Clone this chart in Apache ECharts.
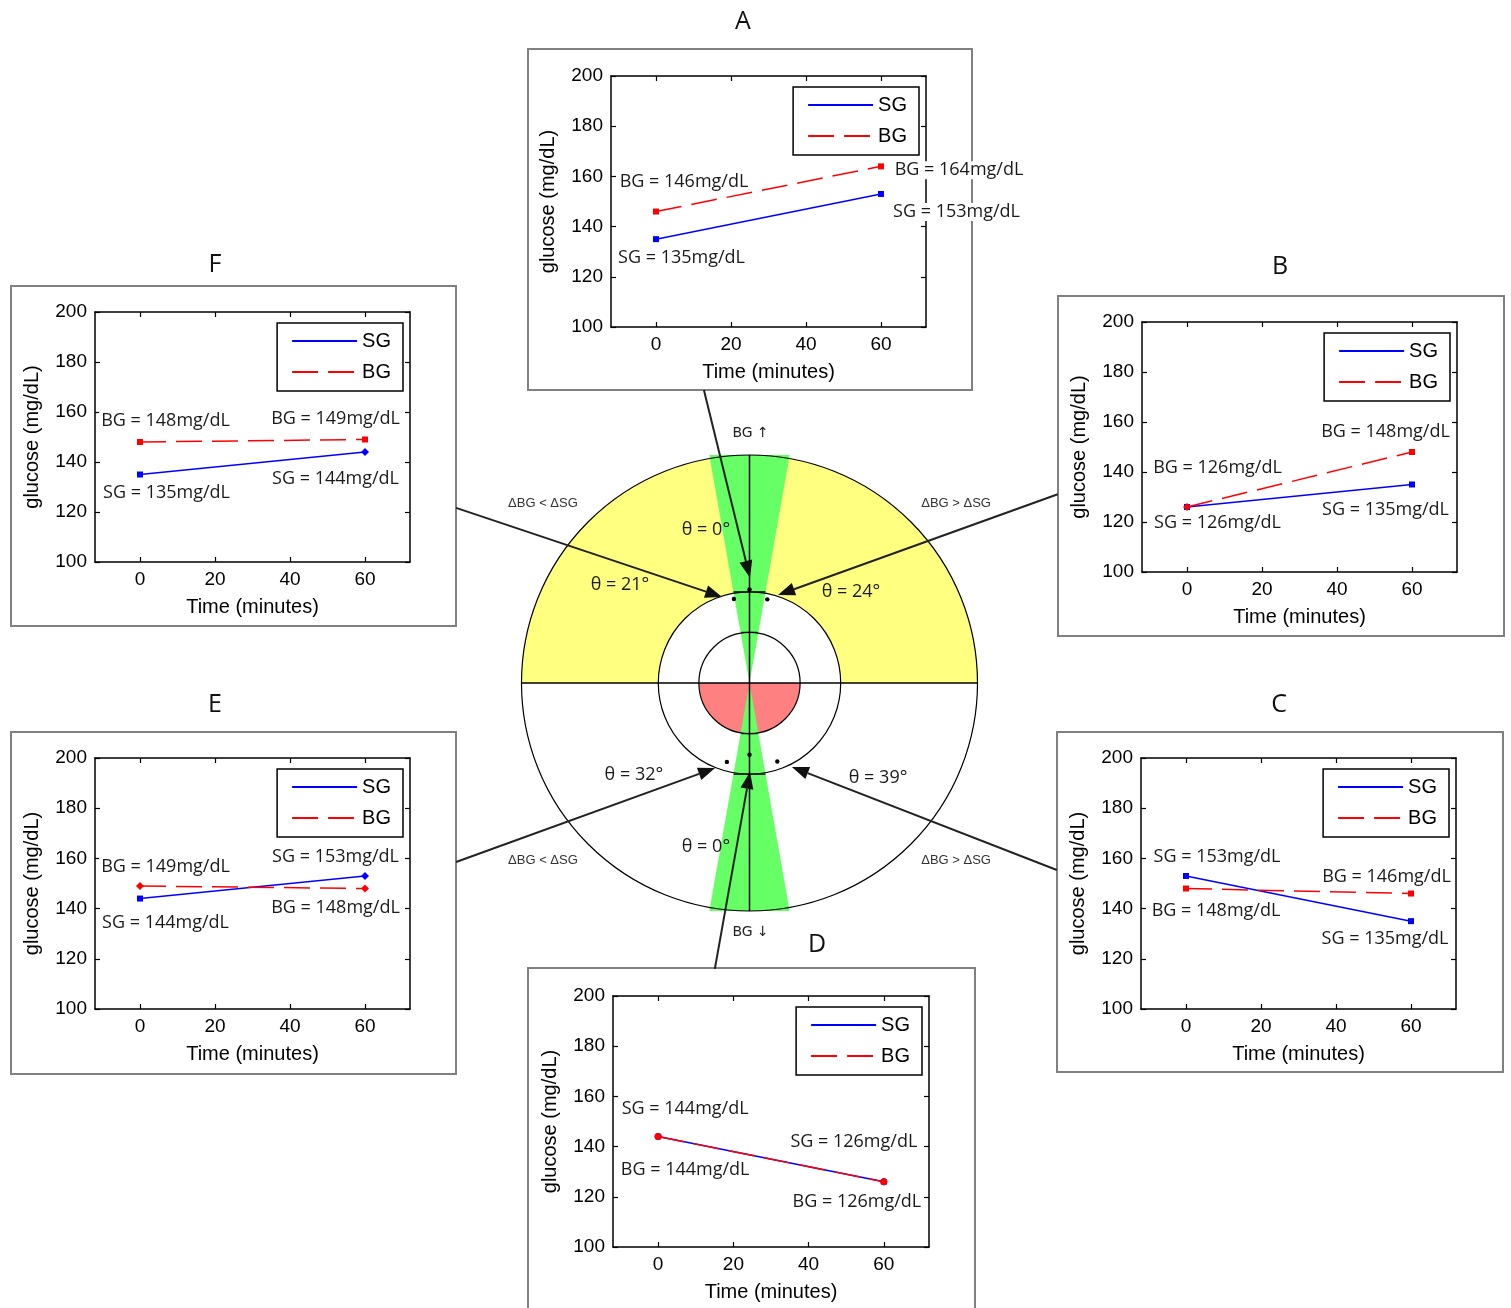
<!DOCTYPE html>
<html><head><meta charset="utf-8">
<script src="https://cdn.jsdelivr.net/npm/echarts@6/dist/echarts.min.js"></script>
<style>html,body{margin:0;padding:0;background:#fff}#c{width:1511px;height:1308px}</style>
</head><body><div id="c"></div><script>
// ---------------- data ----------------
const panelNames = ['A', 'B', 'C', 'D', 'E', 'F'];
const timePoints = [0, 60];
const sgA = [135, 153], bgA = [146, 164];
const sgB = [126, 135], bgB = [126, 148];
const sgC = [153, 135], bgC = [148, 146];
const sgD = [144, 126], bgD = [144, 126];
const sgE = [144, 153], bgE = [149, 148];
const sgF = [135, 144], bgF = [148, 149];
const thetaValues = [0, 24, 39, 0, 32, 21]; // A..F, degrees
const yTickValues = [100, 120, 140, 160, 180, 200];
const xTickValues = [0, 20, 40, 60];
const seriesNames = ['SG', 'BG'];
const xAxisName = 'Time (minutes)';
const yAxisName = 'glucose (mg/dL)';
const regionLabels = ['ΔBG < ΔSG', 'ΔBG > ΔSG'];
const bgDirLabels = ['BG ↑', 'BG ↓'];

const sgData = [sgA, sgB, sgC, sgD, sgE, sgF];
const bgData = [bgA, bgB, bgC, bgD, bgE, bgF];

// ---------------- layout / style ----------------
const W = 1511;
const layout = {
  A: {grid: [611, 76, 315, 251], frame: [528, 49, 444, 341], title: [743, 22],
      lab: {sg: [[25.5, 19], [75.5, 18]], bg: [[28, -30], [78, 4]]},
      sym: {sg: ['rect', 'rect'], bg: ['rect', 'rect']},
      arrow: [[-0.2, 1.285], [0.002, 0.462]], dotR: 0.41, side: [0, 1], thetaPos: [-0.191, 0.671]},
  B: {grid: [1142, 322, 315, 250], frame: [1058, 296, 446, 340], title: [1280, 267],
      lab: {sg: [[30.5, 16], [-26.5, 25.5]], bg: [[30.5, -39], [-26.5, -20]]},
      sym: {sg: ['rect', 'rect'], bg: ['diamond', 'rect']},
      arrow: [[1.352, 0.828], [0.125, 0.386]], dotR: 0.375, side: [1, 1], thetaPos: [0.445, 0.399]},
  C: {grid: [1141, 758, 315, 251], frame: [1057, 732, 446, 340], title: [1279, 705],
      lab: {sg: [[31, -19], [-26, 18]], bg: [[30, 22.5], [-24.5, -17]]},
      sym: {sg: ['rect', 'rect'], bg: ['rect', 'rect']},
      arrow: [[1.348, -0.820], [0.186, -0.368]], dotR: 0.365, side: [1, -1], thetaPos: [0.564, -0.417]},
  D: {grid: [613, 996, 316, 251], frame: [528, 968, 447, 352], title: [817, 945],
      lab: {sg: [[27, -27.6], [-30, -40]], bg: [[27, 33], [-27, 20]]},
      sym: {sg: ['circle', 'circle'], bg: ['circle', 'circle']},
      arrow: [[-0.152, -1.254], [0.002, -0.390]], dotR: 0.315, side: [0, -1], thetaPos: [-0.191, -0.719]},
  E: {grid: [95, 758, 315, 251], frame: [11, 732, 445, 342], title: [215, 705],
      lab: {sg: [[25.5, 24], [-29.5, -19]], bg: [[25.5, -19], [-29.5, 19]]},
      sym: {sg: ['rect', 'diamond'], bg: ['diamond', 'diamond']},
      arrow: [[-1.287, -0.785], [-0.151, -0.373]], dotR: 0.36, side: [-1, -1], thetaPos: [-0.507, -0.404]},
  F: {grid: [95, 312, 315, 250], frame: [11, 286, 445, 340], title: [215, 265],
      lab: {sg: [[26.5, 18], [-29.5, 27]], bg: [[25.5, -21], [-29.5, -21]]},
      sym: {sg: ['rect', 'diamond'], bg: ['rect', 'rect']},
      arrow: [[-1.287, 0.768], [-0.120, 0.377]], dotR: 0.375, side: [-1, 1], thetaPos: [-0.568, 0.430]}
};
const symSize = {rect: 6, diamond: 8, circle: 7};
const colors = {SG: '#0000ff', BG: '#ff0000'};
const tickFont = 'Liberation Sans';
const labelFont = 'Open Sans';
const centerGrid = [521.5, 455, 456, 456];
const rMid = 0.40, rIn = 0.222, wedgeHalf = 10;
const yellow = '#ffff80', green = '#66ff66', red = '#ff8080';

// ---------------- build option ----------------
const grids = [], xAxes = [], yAxes = [], series = [], legends = [], graphics = [];

panelNames.forEach((p, i) => {
  const Lp = layout[p];
  const [gl, gt, gw, gh] = Lp.grid;
  grids.push({left: gl, top: gt, width: gw, height: gh, containLabel: false});
  const axLine = {show: true, onZero: false, lineStyle: {color: '#000', width: 1.5}};
  const tickStyle = {lineStyle: {color: '#000', width: 1.2}};
  xAxes.push({
    gridIndex: i, type: 'value', min: -12, max: 72, position: 'bottom',
    name: xAxisName, nameLocation: 'middle', nameGap: 35,
    nameTextStyle: {fontFamily: tickFont, fontSize: 20, color: '#000'},
    axisLine: axLine, splitLine: {show: false},
    axisTick: Object.assign({inside: true, length: 5, customValues: xTickValues}, tickStyle),
    axisLabel: {customValues: xTickValues, fontFamily: tickFont, fontSize: 19, color: '#000', margin: 8}
  });
  xAxes.push({
    gridIndex: i, type: 'value', min: -12, max: 72, position: 'top',
    axisLine: axLine, splitLine: {show: false},
    axisTick: Object.assign({inside: true, length: 5, customValues: xTickValues}, tickStyle),
    axisLabel: {show: false}
  });
  yAxes.push({
    gridIndex: i, type: 'value', min: 100, max: 200, interval: 20, position: 'left',
    name: yAxisName, nameLocation: 'middle', nameGap: 53, nameRotate: 90,
    nameTextStyle: {fontFamily: tickFont, fontSize: 20, color: '#000'},
    axisLine: axLine, splitLine: {show: false},
    axisTick: Object.assign({inside: true, length: 5}, tickStyle),
    axisLabel: {fontFamily: tickFont, fontSize: 19, color: '#000', margin: 8}
  });
  yAxes.push({
    gridIndex: i, type: 'value', min: 100, max: 200, interval: 20, position: 'right',
    axisLine: axLine, splitLine: {show: false},
    axisTick: Object.assign({inside: true, length: 5}, tickStyle),
    axisLabel: {show: false}
  });

  [['SG', sgData[i], 'sg', 'solid'], ['BG', bgData[i], 'bg', [26, 10]]].forEach(([name, vals, key, dash]) => {
    series.push({
      type: 'line', name: name, xAxisIndex: 2 * i, yAxisIndex: 2 * i,
      lineStyle: {color: colors[name], width: 1.5, type: dash},
      itemStyle: {color: colors[name]},
      showAllSymbol: true,
      z: name === 'BG' ? 4 : 3,
      label: {
        show: true, position: 'inside', align: 'center', verticalAlign: 'middle',
        fontFamily: labelFont, fontSize: 18, color: '#1a1a1a',
        backgroundColor: '#fff', padding: [0, 2]
      },
      data: timePoints.map((t, k) => ({
        value: [t, vals[k]],
        symbol: Lp.sym[key][k], symbolSize: symSize[Lp.sym[key][k]],
        label: {offset: Lp.lab[key][k], formatter: name + ' = ' + vals[k] + 'mg/dL'}
      }))
    });
  });

  legends.push({
    data: seriesNames, orient: 'vertical', selectedMode: false,
    right: W - (gl + gw - 7), top: gt + 11,
    itemWidth: 65, itemHeight: 14, itemGap: 11,
    padding: [8, 12, 9, 14],
    borderColor: '#000', borderWidth: 1.5, backgroundColor: '#fff',
    itemStyle: {opacity: 0, borderWidth: 0},
    textStyle: {fontFamily: tickFont, fontSize: 20, color: '#000', lineHeight: 20}
  });

  const [fx, fy, fw, fh] = Lp.frame;
  graphics.push({type: 'rect', silent: true, shape: {x: fx, y: fy, width: fw, height: fh},
    style: {fill: 'none', stroke: '#808080', lineWidth: 2}});
  graphics.push({type: 'text', silent: true, x: Lp.title[0], y: Lp.title[1],
    style: {text: p, align: 'center', verticalAlign: 'middle', fontFamily: labelFont, fontSize: 25, fill: '#111'}});
});

// center diagram grid
grids.push({left: centerGrid[0], top: centerGrid[1], width: centerGrid[2], height: centerGrid[3]});
xAxes.push({gridIndex: 6, type: 'value', min: -1, max: 1, show: false});
yAxes.push({gridIndex: 6, type: 'value', min: -1, max: 1, show: false});

function renderCenter(params, api) {
  const c = api.coord([0, 0]);
  const R = api.size([1, 1])[0];
  const P = (x, y) => [c[0] + x * R, c[1] - y * R];
  const t = Math.tan(wedgeHalf * Math.PI / 180);
  const ch = [];
  const stroke = {fill: 'none', stroke: '#000', lineWidth: 1.2};
  ch.push({type: 'sector', shape: {cx: c[0], cy: c[1], r0: rMid * R, r: R, startAngle: Math.PI, endAngle: 2 * Math.PI}, style: {fill: yellow}});
  ch.push({type: 'sector', shape: {cx: c[0], cy: c[1], r0: 0, r: rIn * R, startAngle: 0, endAngle: Math.PI}, style: {fill: red}});
  ch.push({type: 'polygon', shape: {points: [P(0, 0), P(-t, 1), P(t, 1)]}, style: {fill: green}});
  ch.push({type: 'polygon', shape: {points: [P(0, 0), P(-t, -1), P(t, -1)]}, style: {fill: green}});
  [1, rMid, rIn].forEach(r => ch.push({type: 'circle', shape: {cx: c[0], cy: c[1], r: r * R}, style: stroke}));
  ch.push({type: 'line', shape: {x1: P(-1, 0)[0], y1: c[1], x2: P(1, 0)[0], y2: c[1]}, style: {stroke: '#000', lineWidth: 1.5}});
  ch.push({type: 'line', shape: {x1: c[0], y1: P(0, 1)[1], x2: c[0], y2: P(0, -1)[1]}, style: {stroke: '#000', lineWidth: 1.5}});
  [[rMid, 0.07], [-rMid, 0.07], [rIn, 0.035], [-rIn, 0.035]].forEach(([y, hw]) => {
    const a = P(-hw, y), b = P(hw, y);
    ch.push({type: 'line', shape: {x1: a[0], y1: a[1], x2: b[0], y2: b[1]}, style: {stroke: '#000', lineWidth: 1.2}});
  });
  panelNames.forEach((p, i) => {
    const Lp = layout[p];
    const half = thetaValues[i] / 2 * Math.PI / 180;
    const d = P(Lp.side[0] * Lp.dotR * Math.sin(half), Lp.side[1] * Lp.dotR * Math.cos(half));
    ch.push({type: 'circle', shape: {cx: d[0], cy: d[1], r: 2.2}, style: {fill: '#000'}});
    // arrow
    const a = P(Lp.arrow[0][0], Lp.arrow[0][1]), b = P(Lp.arrow[1][0], Lp.arrow[1][1]);
    const dx = b[0] - a[0], dy = b[1] - a[1], len = Math.hypot(dx, dy);
    const ux = dx / len, uy = dy / len, hl = 17, hw = 6.5;
    const base = [b[0] - ux * hl, b[1] - uy * hl];
    ch.push({type: 'line', shape: {x1: a[0], y1: a[1], x2: base[0], y2: base[1]}, style: {stroke: '#222', lineWidth: 2}});
    ch.push({type: 'polygon', shape: {points: [b, [base[0] - uy * hw, base[1] + ux * hw], [base[0] + uy * hw, base[1] - ux * hw]]}, style: {fill: '#111'}});
    const tp = P(Lp.thetaPos[0], Lp.thetaPos[1]);
    ch.push({type: 'text', x: tp[0], y: tp[1], style: {text: 'θ = ' + thetaValues[i] + '°', align: 'center', verticalAlign: 'middle', fontFamily: labelFont, fontSize: 18, fill: '#1a1a1a'}});
  });
  [[regionLabels[0], -0.906, 0.789], [regionLabels[1], 0.906, 0.789], [regionLabels[0], -0.906, -0.776], [regionLabels[1], 0.906, -0.776]].forEach(([s, x, y]) => {
    const q = P(x, y);
    ch.push({type: 'text', x: q[0], y: q[1], style: {text: s, align: 'center', verticalAlign: 'middle', fontFamily: tickFont, fontSize: 13, fill: '#333'}});
  });
  [[bgDirLabels[0], 1.096], [bgDirLabels[1], -1.092]].forEach(([s, y]) => {
    const q = P(0.005, y);
    ch.push({type: 'text', x: q[0], y: q[1], style: {text: s, align: 'center', verticalAlign: 'middle', fontFamily: 'DejaVu Sans', fontSize: 14, fill: '#222'}});
  });
  return {type: 'group', children: ch};
}

series.push({
  type: 'custom', xAxisIndex: 12, yAxisIndex: 12, clip: false, silent: true, z: 10,
  data: [[0, 0]], renderItem: renderCenter
});

const chart = echarts.init(document.getElementById('c'), null, {renderer: 'canvas'});
chart.setOption({
  animation: false,
  backgroundColor: '#fff',
  grid: grids, xAxis: xAxes, yAxis: yAxes, series: series, legend: legends,
  graphic: graphics
});
</script></body></html>
